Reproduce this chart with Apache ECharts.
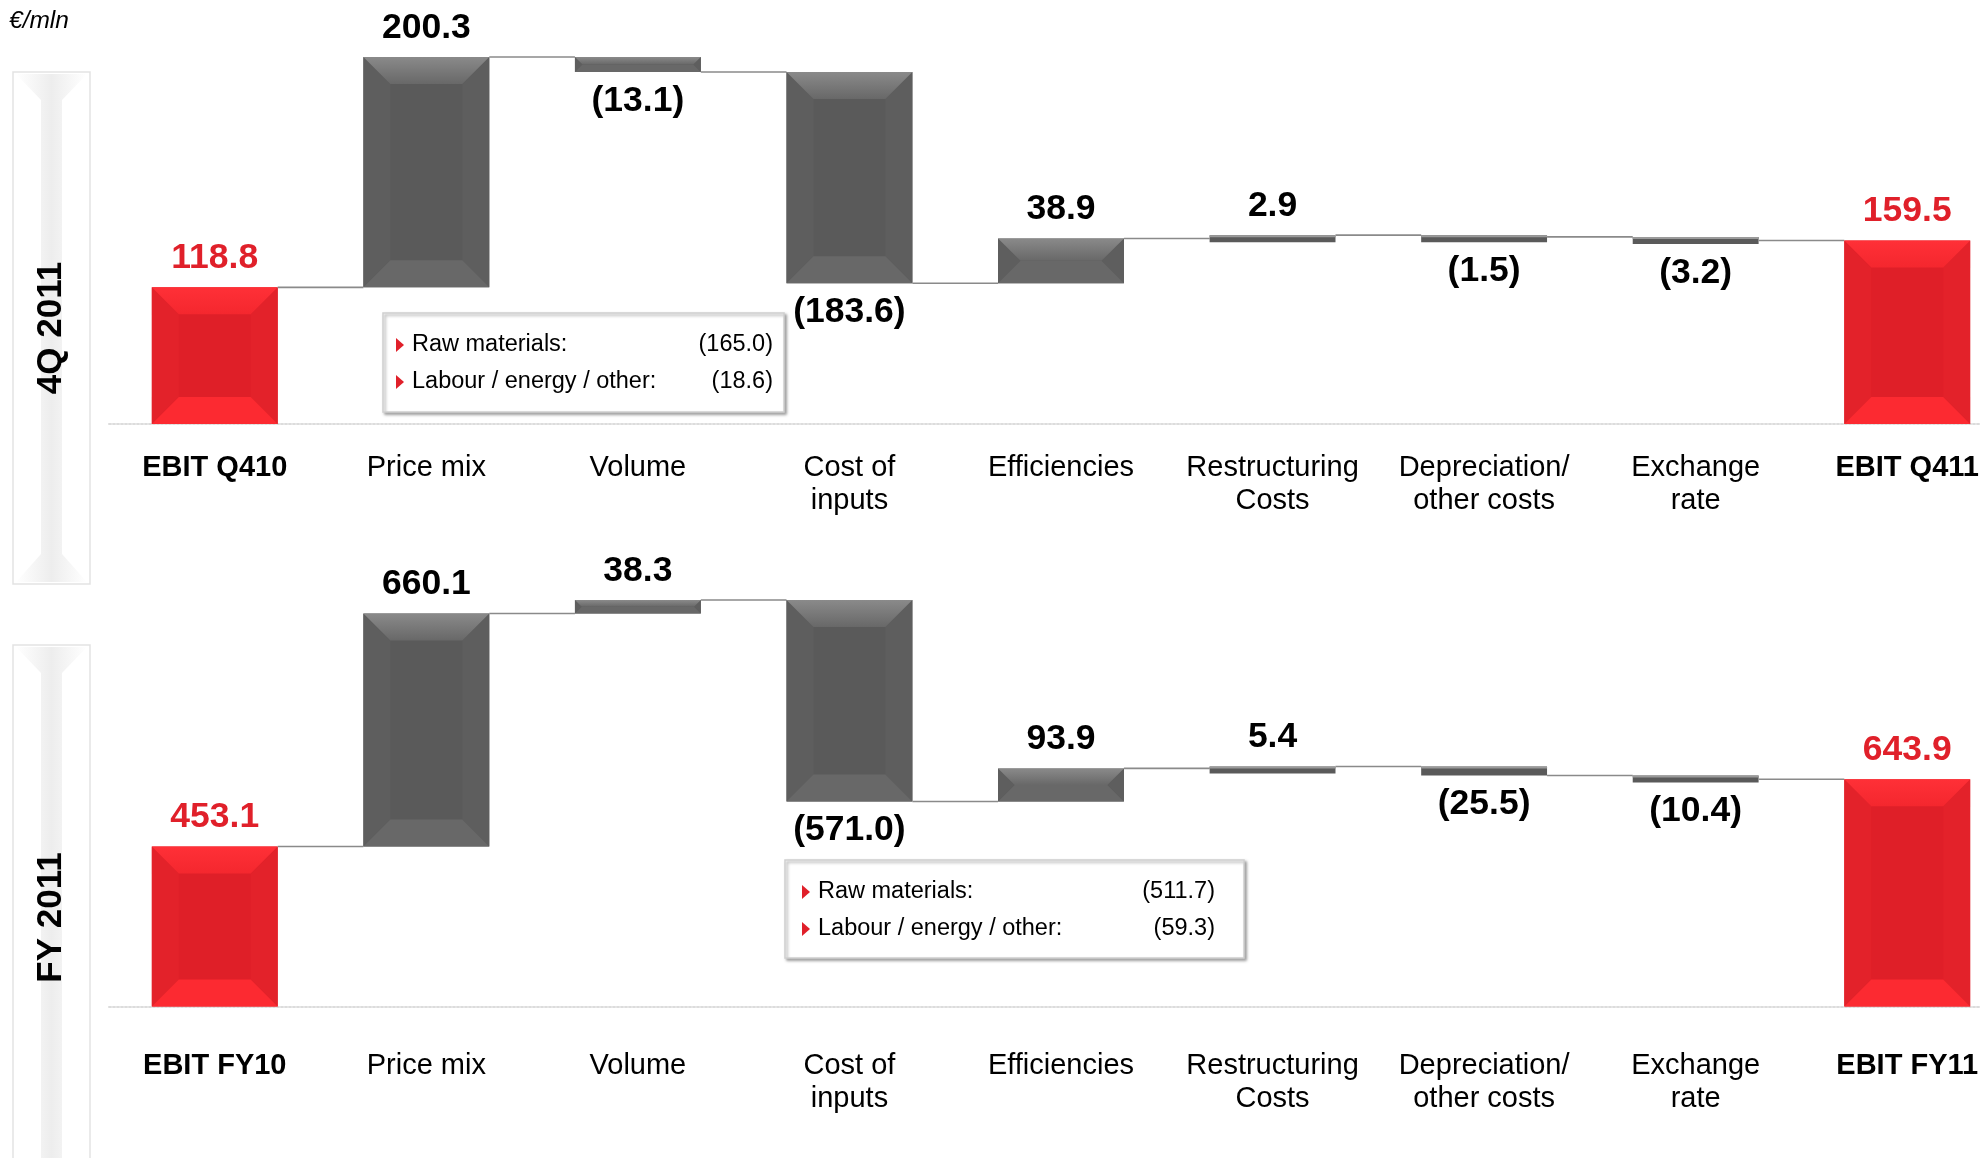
<!DOCTYPE html>
<html lang="en">
<head>
    <meta charset="UTF-8">
    <title>EBIT bridge</title>
    <style>
        html,body{margin:0;padding:0;background:#fff;}
        #main{width:1980px;height:1158px;}
    </style>
    <script type="text/javascript" src="https://cdn.jsdelivr.net/npm/echarts@6/dist/echarts.min.js"></script>
</head>
<body>
<div id="main"></div>
</body>
<script>
    // data
    let categoriesQ=['EBIT Q410','Price mix','Volume','Cost of\ninputs','Efficiencies','Restructuring\nCosts','Depreciation/\nother costs','Exchange\nrate','EBIT Q411'];
    let valuesQ=[118.8,200.3,-13.1,-183.6,38.9,2.9,-1.5,-3.2,159.5];
    let categoriesFY=['EBIT FY10','Price mix','Volume','Cost of\ninputs','Efficiencies','Restructuring\nCosts','Depreciation/\nother costs','Exchange\nrate','EBIT FY11'];
    let valuesFY=[453.1,660.1,38.3,-571.0,93.9,5.4,-25.5,-10.4,643.9];
    let breakdownQ=[['Raw materials:','(165.0)'],['Labour / energy / other:','(18.6)']];
    let breakdownFY=[['Raw materials:','(511.7)'],['Labour / energy / other:','(59.3)']];

    const FONT='Arial, "Liberation Sans", sans-serif';
    const RED='#e0202a';

    // [index, low, high, value, isTotal, runningEnd]
    function bridge(values){
        let run=0;
        return values.map((v,i)=>{
            if(i===0||i===values.length-1){
                run=v;
                return [i,0,v,v,1,v];
            }
            let s=run;
            run=Math.round((run+v)*10)/10;
            return [i,Math.min(s,run),Math.max(s,run),v,0,run];
        });
    }

    function fmt(v,tot){
        if(tot||v>=0) return v.toFixed(1);
        return '('+Math.abs(v).toFixed(1)+')';
    }

    function renderItem(params,api){
        let i=api.value(0),lo=api.value(1),hi=api.value(2),v=api.value(3),tot=api.value(4),end=api.value(5);
        let band=api.size([1,0])[0];
        let w=band*0.595;
        let pHi=api.coord([i,hi]),pLo=api.coord([i,lo]);
        let x=pHi[0]-w/2,y=pHi[1],h=pLo[1]-pHi[1];
        if(h<7) h=7;
        let c=tot?{mid:'#df1f28',top:['#ff3037','#f4272e'],bot:'#fc2a31',side:'#e3222a'}
                 :{mid:'#5a5a5a',top:['#8a8a8a','#686868'],bot:'#686868',side:'#5e5e5e'};
        let d=Math.min(27,h/2,w/2);
        let kids=[];
        kids.push({type:'rect',shape:{x:x,y:y,width:w,height:h},style:{fill:c.mid}});
        if(h>12){
            kids.push({type:'polygon',shape:{points:[[x,y],[x+d,y+d],[x+d,y+h-d],[x,y+h]]},style:{fill:c.side}});
            kids.push({type:'polygon',shape:{points:[[x+w,y],[x+w-d,y+d],[x+w-d,y+h-d],[x+w,y+h]]},style:{fill:c.side}});
            kids.push({type:'polygon',shape:{points:[[x,y],[x+w,y],[x+w-d,y+d],[x+d,y+d]]},
                style:{fill:new echarts.graphic.LinearGradient(0,0,0,1,[{offset:0,color:c.top[0]},{offset:1,color:c.top[1]}])}});
            kids.push({type:'polygon',shape:{points:[[x,y+h],[x+w,y+h],[x+w-d,y+h-d],[x+d,y+h-d]]},style:{fill:c.bot}});
        }else{
            kids.push({type:'rect',shape:{x:x,y:y,width:w,height:2},style:{fill:'#9a9a9a'}});
        }
        // connector to the next bar
        if(i<params.dataInsideLength-1){
            let pe=api.coord([i,end]);
            kids.push({type:'line',shape:{x1:x+w,y1:pe[1],x2:x+band,y2:pe[1]},style:{stroke:'#8a8a8a',lineWidth:1.6}});
        }
        let up=tot||v>=0;
        kids.push({type:'text',style:{
            text:fmt(v,tot),x:pHi[0],y:up?y-11:y+h+11,
            align:'center',verticalAlign:up?'bottom':'top',
            fontFamily:FONT,fontSize:35.5,fontWeight:'bold',fill:tot?RED:'#000'
        }});
        return {type:'group',children:kids};
    }

    function labelFmt(last){
        return function(value,index){
            let tag=(index===0||index===last)?'b':'n';
            return value.split('\n').map(l=>'{'+tag+'|'+l+'}').join('\n');
        };
    }
    let rich={
        b:{fontFamily:FONT,fontSize:29,fontWeight:'bold',color:'#000',lineHeight:33},
        n:{fontFamily:FONT,fontSize:29,color:'#000',lineHeight:33}
    };

    let dataQ=bridge(valuesQ),dataFY=bridge(valuesFY);
    let maxQ=Math.max(...dataQ.map(d=>d[2]));
    let maxFY=Math.max(...dataFY.map(d=>d[2]));

    function xAxis(cats,grid,margin){
        return {
            type:'category',gridIndex:grid,data:cats,
            axisTick:{show:false},
            axisLine:{lineStyle:{color:'#dcdcdc',type:'dotted',width:2}},
            axisLabel:{interval:0,margin:margin,formatter:labelFmt(cats.length-1),rich:rich}
        };
    }
    function yAxis(grid,max){
        return {type:'value',gridIndex:grid,min:0,max:max,show:false,splitLine:{show:false}};
    }

    // side panels and notes
    function sidePanel(top,bottom,title){
        let cx=51;
        let grad=new echarts.graphic.LinearGradient(0,0,1,0,[
            {offset:0,color:'#ffffff'},{offset:0.5,color:'#ededed'},{offset:1,color:'#ffffff'}]);
        return [
            {type:'rect',shape:{x:13,y:top,width:77,height:bottom-top},style:{fill:'#fff',stroke:'#e3e3e3',lineWidth:1.5}},
            {type:'polygon',shape:{points:[[16,top+2],[87,top+2],[62,top+28],[62,bottom-30],[87,bottom-2],[16,bottom-2],[41,bottom-30],[41,top+28]]},
                style:{fill:grad}},
            {type:'text',x:cx,y:(top+bottom)/2,rotation:Math.PI/2,
                style:{text:title,align:'center',verticalAlign:'middle',fontFamily:FONT,fontSize:35,fontWeight:'bold',fill:'#000'}}
        ];
    }
    function noteBox(x,y,w,h,rows,tx,vx){
        let els=[{type:'rect',shape:{x:x,y:y,width:w,height:h},
            style:{fill:'#fff',stroke:'#d0d0d0',lineWidth:1.5,shadowBlur:3,shadowOffsetX:2,shadowOffsetY:2,shadowColor:'rgba(0,0,0,0.35)'}}];
        rows.forEach((r,k)=>{
            let ry=y+32+k*37;
            els.push({type:'polygon',shape:{points:[[tx-16,ry-7],[tx-8,ry],[tx-16,ry+7]]},style:{fill:RED}});
            els.push({type:'text',style:{text:r[0],x:tx,y:ry,verticalAlign:'middle',fontFamily:FONT,fontSize:23.5,fill:'#000'}});
            els.push({type:'text',style:{text:r[1],x:vx,y:ry,align:'right',verticalAlign:'middle',fontFamily:FONT,fontSize:23.5,fill:'#000'}});
        });
        return els;
    }

    let chart=echarts.init(document.getElementById('main'));
    let option={
        animation:false,
        backgroundColor:'#fff',
        grid:[
            {left:109,width:1904,top:57,height:367,outerBoundsMode:'none',containLabel:false},
            {left:109,width:1904,top:600,height:406.5,outerBoundsMode:'none',containLabel:false}
        ],
        xAxis:[xAxis(categoriesQ,0,27),xAxis(categoriesFY,1,43)],
        yAxis:[yAxis(0,maxQ),yAxis(1,maxFY)],
        graphic:[
            {type:'text',left:9,top:9,style:{text:'€/mln',fontFamily:FONT,fontSize:24.5,fontStyle:'italic',fill:'#000'}},
            ...sidePanel(72,584,'4Q 2011'),
            ...sidePanel(645,1190,'FY 2011'),
            ...noteBox(383,313,401,99,breakdownQ,412,773),
            ...noteBox(785,860,459,98,breakdownFY,818,1215)
        ],
        series:[
            {type:'custom',name:'4Q 2011',xAxisIndex:0,yAxisIndex:0,renderItem:renderItem,encode:{x:0,y:[1,2]},data:dataQ},
            {type:'custom',name:'FY 2011',xAxisIndex:1,yAxisIndex:1,renderItem:renderItem,encode:{x:0,y:[1,2]},data:dataFY}
        ]
    };
    chart.setOption(option);
</script>
</html>
